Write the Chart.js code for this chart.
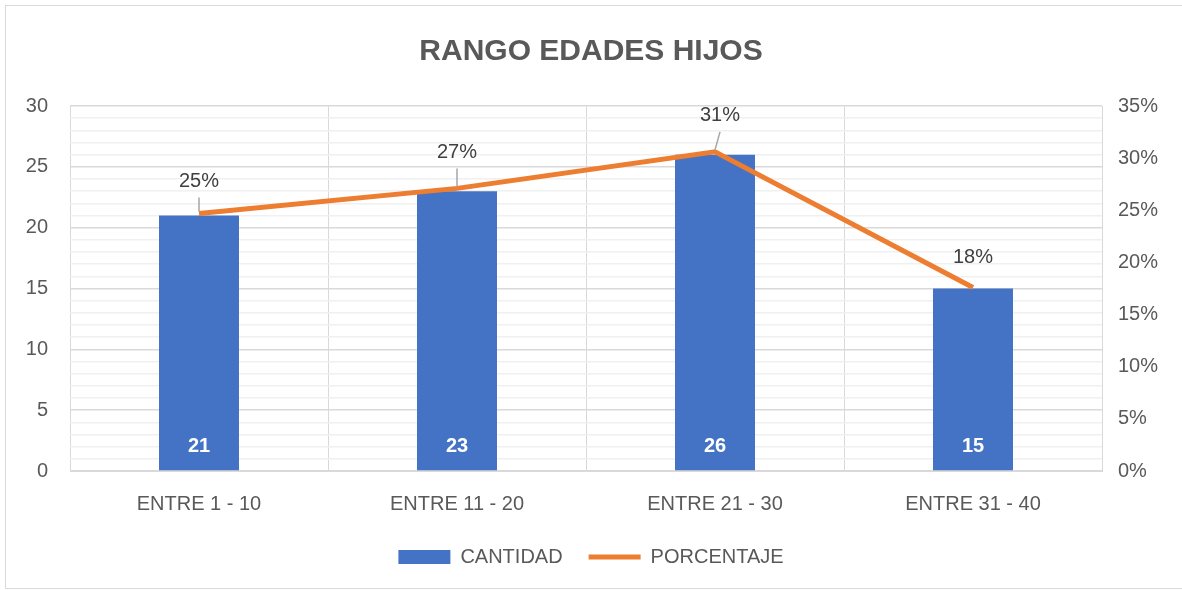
<!DOCTYPE html>
<html>
<head>
<meta charset="utf-8">
<script src="https://cdn.jsdelivr.net/npm/chart.js@4.4.1/dist/chart.umd.min.js"></script>
<style>
  html, body { margin: 0; padding: 0; background: #fff; }
  #wrap { width: 1182px; height: 590px; position: relative; }
</style>
</head>
<body>
<div id="wrap"><canvas id="edades"></canvas></div>
<script>
// Rango edades hijos - datos
const categorias = ["ENTRE 1 - 10", "ENTRE 11 - 20", "ENTRE 21 - 30", "ENTRE 31 - 40"];
const cantidad = [21, 23, 26, 15];
const porcentaje = [0.247, 0.271, 0.306, 0.176];
const porcentajeTexto = ["25%", "27%", "31%", "18%"];

const FONT = "'Liberation Sans', Arial, sans-serif";
const GRIS = "#595959";

/* ---------------- MARCO Y ETIQUETAS ---------------- */
const marco = {
    id: "marco",
    beforeDraw(chart) {
        const ctx = chart.ctx;
        ctx.save();
        ctx.fillStyle = "#fff";
        ctx.fillRect(0, 0, chart.width, chart.height);
        ctx.strokeStyle = "#d9d9d9";
        ctx.lineWidth = 1;
        ctx.strokeRect(5.5, 5.5, 1200, 583);
        ctx.restore();
    }
};

// offsets of the % labels above the line points (dx, dy, leader line)
const etiquetaPos = [
    { dx: 0, dy: -32, guia: true },
    { dx: 0, dy: -36, guia: true },
    { dx: 5, dy: -36, guia: true },
    { dx: 0, dy: -30, guia: false }
];

const etiquetas = {
    id: "etiquetas",
    afterDatasetsDraw(chart) {
        const ctx = chart.ctx;
        ctx.save();
        ctx.textAlign = "center";
        ctx.textBaseline = "middle";

        // valores dentro de las barras
        ctx.font = "bold 20px " + FONT;
        ctx.fillStyle = "#ffffff";
        const base = chart.scales.y.getPixelForValue(0);
        chart.getDatasetMeta(1).data.forEach((bar, i) => {
            ctx.fillText(String(cantidad[i]), bar.x, base - 25);
        });

        // porcentajes sobre la linea
        ctx.font = "20px " + FONT;
        chart.getDatasetMeta(0).data.forEach((pt, i) => {
            const p = etiquetaPos[i];
            const lx = pt.x + p.dx, ly = pt.y + p.dy;
            if (p.guia) {
                ctx.strokeStyle = "#a6a6a6";
                ctx.lineWidth = 1.5;
                ctx.beginPath();
                ctx.moveTo(lx, ly + 16);
                ctx.lineTo(pt.x, pt.y - 2);
                ctx.stroke();
            }
            ctx.fillStyle = "#404040";
            ctx.fillText(porcentajeTexto[i], lx, ly);
        });
        ctx.restore();
    }
};

/* ---------------- GRAFICO ---------------- */
new Chart(document.getElementById("edades"), {
    type: "bar",
    data: {
        labels: categorias,
        datasets: [
            {
                type: "line",
                label: "PORCENTAJE",
                data: porcentaje,
                yAxisID: "y2",
                borderColor: "#ED7D31",
                backgroundColor: "#ED7D31",
                borderWidth: 5,
                pointRadius: 0,
                pointStyle: "line",
                tension: 0,
                order: 0
            },
            {
                label: "CANTIDAD",
                data: cantidad,
                yAxisID: "y",
                backgroundColor: "#4472C4",
                pointStyle: "rect",
                barPercentage: 0.31,
                categoryPercentage: 1,
                order: 1
            }
        ]
    },
    options: {
        responsive: true,
        maintainAspectRatio: false,
        animation: false,
        layout: { padding: { top: 0, bottom: 13, left: 0, right: 0 } },
        plugins: {
            title: {
                display: true,
                text: "RANGO EDADES HIJOS",
                color: GRIS,
                font: { family: FONT, size: 30, weight: "bold" },
                padding: { top: 34, bottom: 36 }
            },
            legend: {
                position: "bottom",
                reverse: true,
                labels: {
                    usePointStyle: true,
                    pointStyleWidth: 52,
                    boxHeight: 14,
                    color: GRIS,
                    font: { family: FONT, size: 20 },
                    padding: 26
                }
            },
            tooltip: { enabled: false }
        },
        scales: {
            x: {
                grid: { color: "#d9d9d9", drawTicks: false },
                border: { color: "#d9d9d9" },
                ticks: { color: GRIS, font: { family: FONT, size: 20 }, padding: 21 },
                afterFit: s => { s.height = 50; }
            },
            y: {
                position: "left",
                min: 0,
                max: 30,
                ticks: {
                    stepSize: 1,
                    autoSkip: false,
                    color: GRIS,
                    font: { family: FONT, size: 20 },
                    padding: 22,
                    callback: v => (v % 5 === 0 ? v : "")
                },
                grid: {
                    drawTicks: false,
                    color: c => (c.tick && c.tick.value % 5 === 0 ? "#d9d9d9" : "#f0f0f0"),
                    lineWidth: 1.5
                },
                border: { display: false },
                afterFit: s => { s.width = 70; }
            },
            y2: {
                position: "right",
                min: 0,
                max: 0.35,
                ticks: {
                    stepSize: 0.05,
                    autoSkip: false,
                    color: GRIS,
                    font: { family: FONT, size: 20 },
                    padding: 16,
                    callback: v => Math.round(v * 100) + "%"
                },
                grid: { drawOnChartArea: false, drawTicks: false },
                border: { display: false },
                afterFit: s => { s.width = 80; }
            }
        }
    },
    plugins: [marco, etiquetas]
});
</script>
</body>
</html>
